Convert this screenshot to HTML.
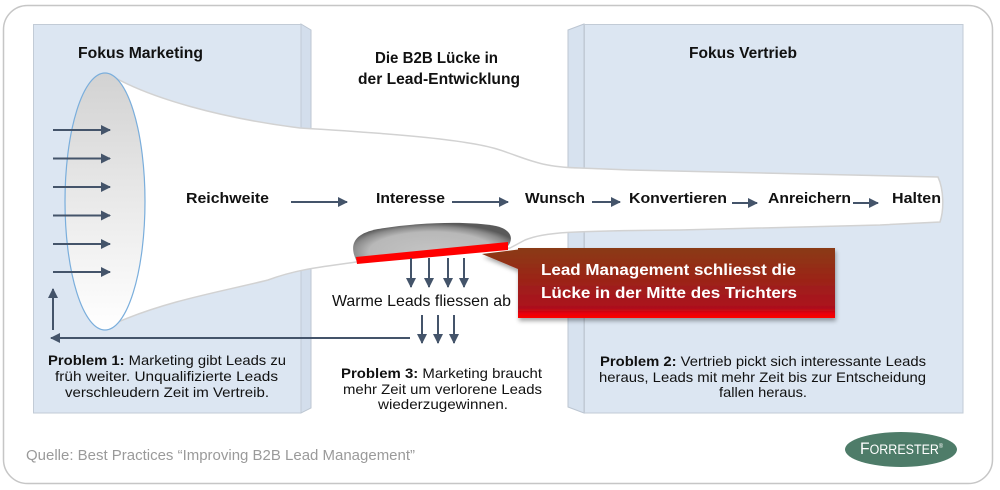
<!DOCTYPE html>
<html><head><meta charset="utf-8"><style>
html,body{margin:0;padding:0;background:#fff;}
svg{display:block;}
text{font-family:"Liberation Sans",Arial,sans-serif;}
</style></head><body>
<svg width="1000" height="490" viewBox="0 0 1000 490" xmlns="http://www.w3.org/2000/svg">
<defs>
<linearGradient id="ell" x1="0" y1="0" x2="0" y2="1">
<stop offset="0" stop-color="#d2d2d2"/><stop offset="0.6" stop-color="#eeeeee"/><stop offset="1" stop-color="#ffffff"/>
</linearGradient>
<radialGradient id="blob" gradientUnits="userSpaceOnUse" cx="432" cy="252" r="90" gradientTransform="translate(432 252) scale(1 0.32) translate(-432 -252)">
<stop offset="0" stop-color="#c4c4c4"/><stop offset="0.7" stop-color="#b8b8b8"/><stop offset="0.88" stop-color="#8a8a8a"/><stop offset="1" stop-color="#5a5a5a"/>
</radialGradient>
<linearGradient id="call" gradientUnits="userSpaceOnUse" x1="0" y1="248" x2="0" y2="318">
<stop offset="0" stop-color="#8a3b12"/><stop offset="0.55" stop-color="#9f1f1a"/><stop offset="0.86" stop-color="#ad101c"/><stop offset="0.93" stop-color="#e4000a"/><stop offset="1" stop-color="#ff0000"/>
</linearGradient>
<filter id="sh" x="-10%" y="-10%" width="130%" height="140%">
<feDropShadow dx="1" dy="3" stdDeviation="2" flood-color="#000" flood-opacity="0.35"/>
</filter>
<marker id="ah" viewBox="0 0 10 10" refX="9" refY="5" markerWidth="5" markerHeight="5" orient="auto" markerUnits="strokeWidth">
<path d="M0,0 L10,5 L0,10 Z" fill="#44546a"/>
</marker>
</defs>

<!-- outer frame -->
<rect x="3.5" y="5.5" width="989" height="478" rx="24" ry="24" fill="#fff" stroke="#c6c6c6" stroke-width="1.5"/>

<!-- left panel -->
<polygon points="301,24 311,30 311,408 301,413" fill="#d3deec" stroke="#bcc6d2" stroke-width="1"/>
<rect x="33.5" y="24.5" width="267.5" height="388.5" fill="#dce6f2" stroke="#c2cbd6" stroke-width="1"/>

<!-- right panel -->
<polygon points="568,30 584,24 584,413 568,407" fill="#d7e2ef" stroke="#bcc6d2" stroke-width="1"/>
<rect x="584.5" y="24.5" width="378.5" height="388.5" fill="#dce6f2" stroke="#c2cbd6" stroke-width="1"/>

<!-- funnel -->
<path d="M112,76 C150,98 220,118 300,128 C400,134 470,140 500,150 C530,160 540,167 580,168 L630,170 L938,177 C944,190 944,210 940,222 L880,225 L680,230 C570,231 545,232 525,240 L510,248 L356,262 C330,266 300,268 268,280 C220,292 170,300 118,322 Z" fill="#fff" stroke="#d2d2d2" stroke-width="1.5"/>

<!-- ellipse mouth -->
<ellipse cx="105" cy="201.5" rx="40" ry="128.5" fill="url(#ell)" stroke="#7aaedc" stroke-width="1.2"/>

<!-- gap blob -->
<path d="M357,262 C349,246 352,234 378,229 C420,222 470,221 496,226 C513,230 513,240 508,246 Z" fill="url(#blob)"/>
<polygon points="356,257 508,242 508,250 357,264" fill="#ff0000"/>

<!-- arrows -->
<g stroke="#44546a" stroke-width="2" fill="none" marker-end="url(#ah)">
<line x1="53" y1="130" x2="110" y2="130"/>
<line x1="53" y1="158.5" x2="110" y2="158.5"/>
<line x1="53" y1="187" x2="110" y2="187"/>
<line x1="53" y1="215.5" x2="110" y2="215.5"/>
<line x1="53" y1="244" x2="110" y2="244"/>
<line x1="53" y1="272" x2="110" y2="272"/>
<line x1="53" y1="330" x2="53" y2="289"/>
<line x1="410" y1="338" x2="51" y2="338"/>
<line x1="291" y1="202" x2="347" y2="202"/>
<line x1="452" y1="202" x2="508" y2="202"/>
<line x1="592" y1="202" x2="620" y2="202"/>
<line x1="732" y1="203" x2="757" y2="203"/>
<line x1="853" y1="203" x2="878" y2="203"/>
<line x1="411" y1="258" x2="411" y2="287"/>
<line x1="429" y1="258" x2="429" y2="287"/>
<line x1="448" y1="258" x2="448" y2="287"/>
<line x1="464" y1="258" x2="464" y2="287"/>
<line x1="422" y1="315" x2="422" y2="343"/>
<line x1="438" y1="315" x2="438" y2="343"/>
<line x1="454" y1="315" x2="454" y2="343"/>
</g>

<!-- headings -->
<g font-weight="bold" fill="#111" font-size="16">
<text x="78" y="58" textLength="125" lengthAdjust="spacingAndGlyphs">Fokus Marketing</text>
<text x="375" y="63" textLength="123" lengthAdjust="spacingAndGlyphs">Die B2B Lücke in</text>
<text x="358" y="84" textLength="162" lengthAdjust="spacingAndGlyphs">der Lead-Entwicklung</text>
<text x="689" y="58" textLength="108" lengthAdjust="spacingAndGlyphs">Fokus Vertrieb</text>
</g>
<g font-weight="bold" fill="#111" font-size="15">
<text x="186" y="203" textLength="83" lengthAdjust="spacingAndGlyphs">Reichweite</text>
<text x="376" y="203" textLength="69" lengthAdjust="spacingAndGlyphs">Interesse</text>
<text x="525" y="203" textLength="60" lengthAdjust="spacingAndGlyphs">Wunsch</text>
<text x="629" y="203" textLength="98" lengthAdjust="spacingAndGlyphs">Konvertieren</text>
<text x="768" y="203" textLength="83" lengthAdjust="spacingAndGlyphs">Anreichern</text>
<text x="892" y="203" textLength="49" lengthAdjust="spacingAndGlyphs">Halten</text>
</g>

<text x="332" y="306" font-size="16" fill="#111" textLength="179" lengthAdjust="spacingAndGlyphs">Warme Leads fliessen ab</text>

<!-- problems -->
<g font-size="14" fill="#111">
<text x="48" y="365" textLength="238" lengthAdjust="spacingAndGlyphs"><tspan font-weight="bold">Problem 1:</tspan> Marketing gibt Leads zu</text>
<text x="55" y="381" textLength="223" lengthAdjust="spacingAndGlyphs">früh weiter. Unqualifizierte Leads</text>
<text x="65" y="397" textLength="204" lengthAdjust="spacingAndGlyphs">verschleudern Zeit im Vertreib.</text>

<text x="341" y="378" textLength="201" lengthAdjust="spacingAndGlyphs"><tspan font-weight="bold">Problem 3:</tspan> Marketing braucht</text>
<text x="343" y="394" textLength="199" lengthAdjust="spacingAndGlyphs">mehr Zeit um verlorene Leads</text>
<text x="378" y="409" textLength="130" lengthAdjust="spacingAndGlyphs">wiederzugewinnen.</text>

<text x="600" y="366" textLength="326" lengthAdjust="spacingAndGlyphs"><tspan font-weight="bold">Problem 2:</tspan> Vertrieb pickt sich interessante Leads</text>
<text x="599" y="382" textLength="327" lengthAdjust="spacingAndGlyphs">heraus, Leads mit mehr Zeit bis zur Entscheidung</text>
<text x="719" y="397" textLength="88" lengthAdjust="spacingAndGlyphs">fallen heraus.</text>
</g>

<!-- callout -->
<g filter="url(#sh)">
<polygon points="482,254 530,248 530,274" fill="url(#call)"/>
<rect x="518" y="248" width="317" height="70" fill="url(#call)"/>
</g>
<g font-weight="bold" fill="#fff" font-size="16">
<text x="541" y="275" textLength="255" lengthAdjust="spacingAndGlyphs">Lead Management schliesst die</text>
<text x="541" y="298" textLength="256" lengthAdjust="spacingAndGlyphs">Lücke in der Mitte des Trichters</text>
</g>

<!-- source -->
<text x="26" y="460" font-size="15" fill="#9a9a9a" textLength="389" lengthAdjust="spacingAndGlyphs">Quelle: Best Practices “Improving B2B Lead Management”</text>

<!-- logo -->
<ellipse cx="901" cy="449.5" rx="56" ry="17.5" fill="#4e7c69"/>
<text x="860" y="454" fill="#fff" font-family="Liberation Serif, serif" textLength="83" lengthAdjust="spacingAndGlyphs"><tspan font-size="17">F</tspan><tspan font-size="13.5">ORRESTER</tspan><tspan font-size="6" dy="-6">®</tspan></text>
</svg>
</body></html>
